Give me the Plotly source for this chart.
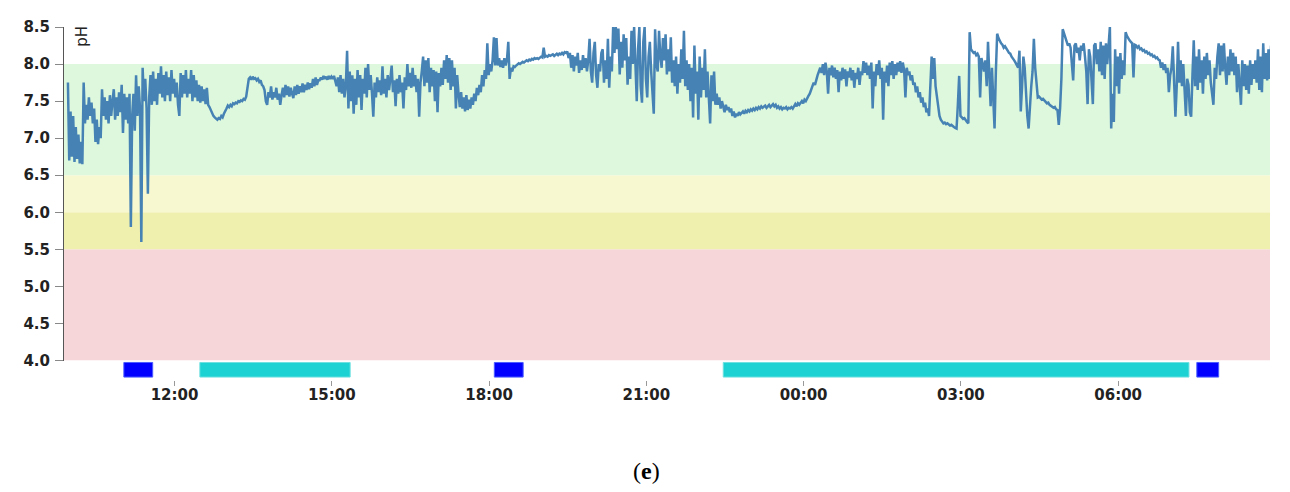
import pandas as pd
import plotly.graph_objects as go

# ---------------- data ----------------
start_time = "2024-01-01 09:58"
sample_step = "90s"

ph_morning = [
    7.75, 6.70, 7.36, 6.75, 7.30, 6.68, 7.15, 6.72, 7.05, 6.66, 6.95, 6.65, 7.75, 7.20,
    7.45, 7.25, 7.55, 7.30, 7.48, 7.20, 7.40, 6.95, 7.25, 6.92, 7.15, 7.00, 7.66, 7.30,
    7.55, 7.25, 7.50, 7.20, 7.58, 7.30, 7.50, 7.66, 7.25, 7.55, 7.30, 7.62, 7.35, 7.72,
    7.07, 7.60, 7.25, 7.55, 7.20, 7.60,
    5.80, 7.30, 7.60, 7.10, 7.85, 7.30, 7.70, 7.40, 5.60, 7.95, 7.50, 7.80, 7.40, 6.25,
    7.55, 7.85, 7.45, 7.90, 7.50, 7.80, 7.45, 7.88, 7.60, 7.97,
    7.55, 7.85, 7.50, 7.90, 7.58, 7.82, 7.50, 7.92, 7.60, 7.80, 7.55, 7.75, 7.45, 7.30,
    7.88, 7.55, 7.85, 7.60, 7.92, 7.55, 7.80, 7.60, 7.92, 7.50, 7.85, 7.55, 7.78, 7.50,
    7.72, 7.48, 7.70, 7.50, 7.66, 7.46, 7.68, 7.45, 7.42, 7.38, 7.33, 7.30, 7.28, 7.26,
    7.25, 7.27, 7.26, 7.30, 7.28, 7.33,
    7.36, 7.40, 7.44, 7.42, 7.45, 7.43, 7.47, 7.46, 7.48, 7.47, 7.50, 7.49, 7.51, 7.50,
    7.53, 7.52, 7.56, 7.70,
    7.80, 7.82, 7.79, 7.83, 7.80, 7.81, 7.78, 7.80, 7.76, 7.78, 7.72, 7.70,
    7.65, 7.50, 7.45, 7.62, 7.55, 7.70, 7.52, 7.62, 7.55, 7.68, 7.52, 7.60, 7.45, 7.58,
]

ph_afternoon = [
    7.68, 7.55, 7.72, 7.58, 7.70, 7.56, 7.68, 7.60, 7.54, 7.70, 7.58, 7.72, 7.60, 7.70,
    7.62, 7.74, 7.62, 7.72, 7.65, 7.75, 7.66, 7.74, 7.68, 7.80, 7.70, 7.82, 7.72, 7.78,
    7.78, 7.82, 7.79, 7.84, 7.80, 7.83, 7.79, 7.84, 7.80, 7.83, 7.80, 7.84, 7.78, 7.70,
    7.82, 7.62, 7.85, 7.60, 7.80, 7.55,
    7.70, 8.18, 7.40, 7.90, 7.50, 7.85, 7.33, 7.80, 7.45, 7.92, 7.55, 7.85, 7.38, 7.80,
    7.60, 7.95, 7.55, 8.00, 7.65, 7.85,
    7.60, 7.29, 7.75, 7.55, 7.82, 7.62, 7.78, 7.58, 7.97, 7.60, 7.80, 7.55, 7.85, 7.65,
    7.80, 7.98, 7.62, 7.78, 7.43, 7.80, 7.60, 7.85, 7.62, 7.75, 7.40, 7.82, 7.65, 8.00,
    7.70, 7.88, 7.68, 7.95, 7.70, 7.85, 7.62, 7.80, 7.29, 7.75,
    7.90, 8.10, 7.70, 8.05, 7.75, 8.08, 7.62, 7.95, 7.70, 7.92, 7.50, 7.90, 7.35, 7.88,
    7.70, 7.95, 7.72, 8.05, 7.80, 8.12, 7.75, 8.08, 7.65, 8.05, 7.70, 7.95, 7.40, 7.85,
    7.60, 7.42, 7.62, 7.40, 7.55, 7.36, 7.58, 7.38, 7.52, 7.40, 7.55, 7.45,
    7.60, 7.50, 7.68, 7.58, 7.72, 7.62, 7.85, 7.70, 7.92, 7.80, 8.28, 7.85, 8.00, 7.90,
    8.05, 8.36, 7.98, 8.35,
    7.98, 8.08, 7.96, 8.05, 7.95, 8.08, 7.98, 8.06, 8.30, 7.80, 7.95, 7.90, 7.97, 7.96,
    7.98, 8.00, 8.01, 8.00, 8.02, 8.03, 8.02, 8.04, 8.05, 8.04, 8.06, 8.05, 8.07, 8.06,
    8.08, 8.07, 8.08, 8.07, 8.09, 8.10, 8.09, 8.22, 8.10, 8.11, 8.10, 8.12, 8.11, 8.12,
    8.13, 8.11, 8.12, 8.14, 8.12, 8.14, 8.13, 8.15, 8.13, 8.16, 8.15, 8.17,
]

ph_evening = [
    8.08, 8.15, 7.95, 8.12, 7.90, 8.10, 7.98, 8.15, 7.88, 8.05, 7.92, 8.12, 7.95, 8.08,
    7.90, 8.05,
    8.34, 7.90, 7.75, 8.15, 8.30, 7.85, 7.68, 8.00, 7.90, 8.15,
    8.20, 7.75, 8.05, 7.80, 8.34, 7.68, 8.10, 7.90, 8.50, 8.15, 8.50, 8.20, 8.48, 7.86,
    8.30, 7.95, 8.40, 8.05, 8.35, 7.72, 8.10, 7.80, 8.45, 8.00, 8.50, 8.10,
    7.50, 8.20, 8.50, 7.70, 7.48, 8.30, 8.50, 7.80, 7.55, 8.10, 8.30, 7.90, 7.60, 7.33,
    8.47, 8.00, 7.90, 8.45, 8.10, 7.95, 8.35, 8.05, 8.40, 7.86, 8.20, 7.90,
    8.36, 7.75, 8.05, 7.70, 8.10, 7.60, 8.00, 7.75, 8.20, 7.80, 8.45, 7.70, 8.05, 7.65,
    8.00, 7.50, 7.95, 7.28, 8.25, 7.60, 7.90, 7.25, 8.10, 7.55, 7.95, 7.65, 8.20, 7.55,
    7.90, 7.45, 7.20, 7.85, 7.50, 7.90, 7.45, 7.60,
    7.45, 7.55, 7.40, 7.50, 7.42, 7.35, 7.45, 7.38, 7.42, 7.35, 7.40, 7.30, 7.36, 7.28,
]

ph_night = [
    7.33, 7.30, 7.35, 7.32, 7.34, 7.36, 7.33, 7.37, 7.35, 7.38, 7.36, 7.39, 7.37, 7.40,
    7.38, 7.41, 7.39, 7.42, 7.40, 7.43, 7.41, 7.42, 7.44, 7.41, 7.43, 7.45, 7.42, 7.44,
    7.46, 7.43, 7.45, 7.41, 7.43, 7.40, 7.42, 7.39, 7.41, 7.40, 7.42, 7.39, 7.41, 7.40,
    7.42, 7.40, 7.44, 7.46, 7.43, 7.47, 7.45, 7.48, 7.50, 7.47, 7.52, 7.50, 7.55, 7.57,
    7.60, 7.65, 7.70, 7.75, 7.72, 7.80, 7.85, 7.90, 7.95, 7.88, 8.00, 7.85, 8.02, 7.90,
    7.60, 7.95, 7.85, 7.98,
    7.82, 7.95, 7.80, 7.92, 7.62, 7.90, 7.78, 7.95, 7.80, 7.93, 7.70, 7.90, 7.82, 7.95,
    7.78, 7.92, 7.68, 7.88, 7.80, 7.95, 7.72, 7.90, 7.85, 8.04, 7.88, 8.02, 7.85, 7.98,
    7.80, 8.02, 7.40, 7.90,
    7.70, 8.00, 7.85, 8.05, 7.80, 7.95, 7.25, 7.90, 7.75, 7.98, 7.70, 8.02, 7.85, 8.04,
    7.80, 8.00, 7.85, 8.02, 7.90, 8.04, 7.88, 8.02, 7.92, 7.55, 7.95, 7.85, 7.90, 7.78,
    7.85, 7.72,
    7.75, 7.62, 7.70, 7.55, 7.62, 7.48, 7.55, 7.42, 7.48, 7.35, 7.40, 7.30, 7.70, 8.10,
    7.80, 8.08,
    7.70, 7.55, 7.40, 7.30, 7.25, 7.22, 7.20, 7.21, 7.19, 7.20, 7.18, 7.17, 7.18, 7.16,
    7.15, 7.14, 7.13, 7.45,
    7.84, 7.30, 7.28, 7.26, 7.27, 7.24, 7.22, 7.20,
    8.43, 8.20, 8.17, 8.15, 8.16, 8.12, 8.14, 8.10, 7.55, 8.08, 8.00, 7.90,
    8.05, 7.70, 8.30, 7.90, 7.43, 7.95, 7.60, 7.13, 7.90, 8.41, 8.35, 8.30,
    8.28, 8.26, 8.22, 8.24, 8.20, 8.18, 8.15, 8.14, 8.10, 8.08, 8.05, 8.02, 7.98, 7.95,
    8.18, 7.36, 7.70, 8.10, 7.95, 7.60, 7.30, 7.13, 7.50, 7.70, 7.90, 8.34, 7.95, 7.70,
    7.55, 7.56,
]

ph_early = [
    7.54, 7.52, 7.53, 7.50, 7.49, 7.47, 7.48, 7.45, 7.44, 7.43, 7.41, 7.42, 7.39, 7.38,
    7.18, 7.40, 7.80, 8.47, 8.42, 8.35,
    8.30, 8.25, 8.28, 8.22, 8.00, 7.78, 8.25, 8.28, 8.15, 8.22, 8.05, 8.25, 8.18, 8.28,
    8.10, 7.90, 7.46, 8.20, 8.10, 7.80, 7.46, 8.25, 8.28, 8.00, 8.20, 7.90, 8.30, 7.85,
    8.25, 7.80, 8.28, 8.00, 8.30, 8.50, 7.13, 7.60, 7.22, 8.20, 7.70, 8.10, 7.60, 8.15,
    7.80, 8.05, 7.85, 8.43, 8.38, 8.34, 8.32, 8.30,
    8.28, 7.82, 8.26, 8.25, 8.22, 8.24, 8.20, 8.21, 8.18, 8.19, 8.16, 8.17, 8.14, 8.15,
    8.12, 8.13, 8.10, 8.11, 8.08, 8.09, 8.06,
    8.05, 7.95, 8.02, 7.92, 8.00, 7.88, 7.95, 7.62, 7.85, 7.95, 8.24,
    7.80, 7.29, 7.70, 8.30, 7.75, 8.05, 7.70, 8.00, 7.65, 7.30, 7.80, 7.72, 7.35, 7.29,
    7.85, 8.32, 7.70, 8.10, 7.65, 8.20, 7.75, 8.05, 7.60, 8.10, 7.80, 8.15, 7.85, 8.05,
    7.75, 7.60, 7.45, 7.95, 7.80, 8.10, 8.28, 7.85, 8.25, 7.90, 8.28, 7.95, 7.72, 8.10,
    7.85, 8.20, 7.90, 8.15, 7.85, 8.10, 7.62, 8.00, 7.70, 7.45, 8.05, 7.70, 8.00, 7.65,
    7.98, 7.60, 8.05, 7.72, 8.00, 7.80, 8.05, 7.75, 8.20, 7.65, 8.10, 7.62, 8.28, 7.80,
    8.15, 7.78, 8.20, 7.80, 8.25,
]

# activity periods shown as bars under the axis
bar_start = ["2024-01-01 11:02", "2024-01-01 12:29", "2024-01-01 18:06",
             "2024-01-01 22:28", "2024-01-02 07:30"]
bar_end = ["2024-01-01 11:35", "2024-01-01 15:21", "2024-01-01 18:39",
           "2024-01-02 07:21", "2024-01-02 07:55"]
bar_kind = ["meal", "sleep", "meal", "sleep", "meal"]

# pH zones
band_low = [4.0, 5.5, 6.0, 6.5]
band_high = [5.5, 6.0, 6.5, 8.0]

y_ticks = [4.0, 4.5, 5.0, 5.5, 6.0, 6.5, 7.0, 7.5, 8.0, 8.5]
x_tick_times = ["2024-01-01 12:00", "2024-01-01 15:00", "2024-01-01 18:00",
                "2024-01-01 21:00", "2024-01-02 00:00", "2024-01-02 03:00",
                "2024-01-02 06:00"]
x_tick_labels = ["12:00", "15:00", "18:00", "21:00", "00:00", "03:00", "06:00"]
x_range = ["2024-01-01 09:53:30", "2024-01-02 08:53:45"]

# ---------------- styles ----------------
band_colors = ["#f6d6d8", "#efefae", "#f8f8d0", "#ddf8dd"]
bar_colors = {"meal": "#0000ff", "sleep": "#1cd2d2"}
bar_line = {"meal": "#4a5cff", "sleep": "#6ee0e0"}
line_color = "#4682b4"
tick_font = dict(family="DejaVu Sans", size=15, color="#222222", weight="bold")

ph = ph_morning + ph_afternoon + ph_evening + ph_night + ph_early
times = pd.date_range(start=start_time, periods=len(ph), freq=sample_step)

fig = go.Figure()
fig.add_trace(go.Scatter(x=times, y=ph, mode="lines",
                         line=dict(color=line_color, width=2.5),
                         hoverinfo="skip", showlegend=False))

shapes = []
for lo, hi, col in zip(band_low, band_high, band_colors):
    shapes.append(dict(type="rect", xref="paper", x0=0, x1=1, yref="y",
                       y0=lo, y1=hi, fillcolor=col, line=dict(width=0),
                       layer="below"))

for s, e, k in zip(bar_start, bar_end, bar_kind):
    shapes.append(dict(type="rect", xref="x", x0=s, x1=e, yref="paper",
                       y0=0.0083, y1=0.0497, fillcolor=bar_colors[k],
                       line=dict(width=1, color=bar_line[k]), layer="above"))

# page body has an 8px margin, so the figure is sized/offset to compensate
fig.update_layout(
    width=1282, height=484,
    margin=dict(l=56, r=20, t=10, b=112),
    paper_bgcolor="white", plot_bgcolor="white",
    shapes=shapes,
    xaxis=dict(type="date", range=x_range, anchor="free", position=0,
               tickvals=x_tick_times, ticktext=x_tick_labels,
               ticks="outside", ticklen=5, tickwidth=1, tickcolor="#999999",
               ticklabelstandoff=-4,
               showline=False, showgrid=False, zeroline=False,
               tickfont=tick_font),
    yaxis=dict(domain=[0.0552, 1], range=[4.0, 8.5],
               tickvals=y_ticks, ticktext=[f"{v:.1f}" for v in y_ticks],
               ticks="outside", ticklen=8, tickwidth=1, tickcolor="#888888",
               ticklabelstandoff=2,
               showline=True, linecolor="#555555", linewidth=1,
               showgrid=False, zeroline=False, tickfont=tick_font),
    annotations=[
        dict(text="pH", xref="paper", yref="paper", x=0.0149, y=0.975,
             textangle=-90, showarrow=False, xanchor="center", yanchor="middle",
             font=dict(family="DejaVu Sans", size=15, color="#222222")),
        dict(text="(<b>e</b>)", xref="paper", yref="paper", x=0.483, y=-0.257,
             showarrow=False, xanchor="center", yanchor="middle",
             font=dict(family="Liberation Serif", size=24, color="#000000")),
    ],
)

fig.write_html("out.html")
